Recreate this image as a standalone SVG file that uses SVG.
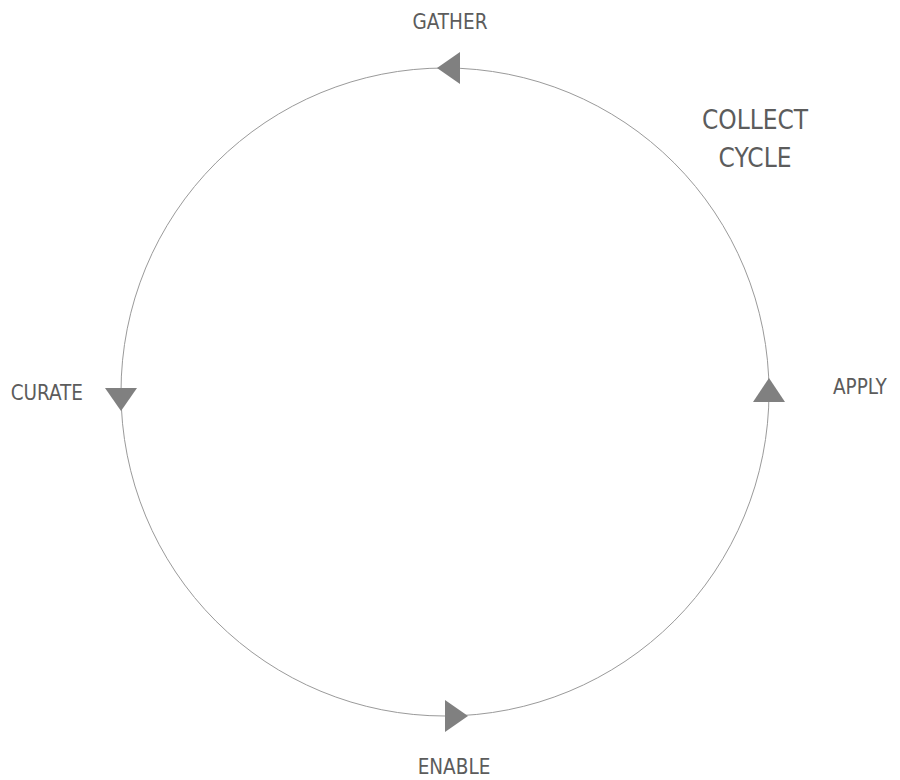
<svg xmlns="http://www.w3.org/2000/svg" width="900" height="780" viewBox="0 0 900 780">
<style>
.lbl{font-family:"DejaVu Sans Condensed","DejaVu Sans","Liberation Sans",sans-serif;font-stretch:condensed;font-size:20.5px;fill:#5c5c5c}
.ttl{font-family:"DejaVu Sans Condensed","DejaVu Sans","Liberation Sans",sans-serif;font-stretch:condensed;font-size:26px;fill:#5c5c5c}
.arr{fill:#808080}
</style>
<rect width="900" height="780" fill="#ffffff"/>
<g id="connectors">
<circle cx="445" cy="392" r="324" fill="none" stroke="#9a9a9a" stroke-width="1"/>
<polygon class="arr" points="437,68 460,52 460,84"/>
<polygon class="arr" points="105,388 137,388 121,411"/>
<polygon class="arr" points="445,700 445,732 468,716"/>
<polygon class="arr" points="769,378 753,402 785,402"/>
</g>
<g id="title"><text class="ttl" x="755" y="129" text-anchor="middle">COLLECT</text><text class="ttl" x="755" y="167" text-anchor="middle">CYCLE</text></g>
<g id="gather"><text class="lbl" x="450" y="29" text-anchor="middle">GATHER</text></g>
<g id="apply"><text class="lbl" x="833" y="394">APPLY</text></g>
<g id="enable"><text class="lbl" x="454" y="774" text-anchor="middle">ENABLE</text></g>
<g id="curate"><text class="lbl" x="83" y="400" text-anchor="end">CURATE</text></g>
</svg>
